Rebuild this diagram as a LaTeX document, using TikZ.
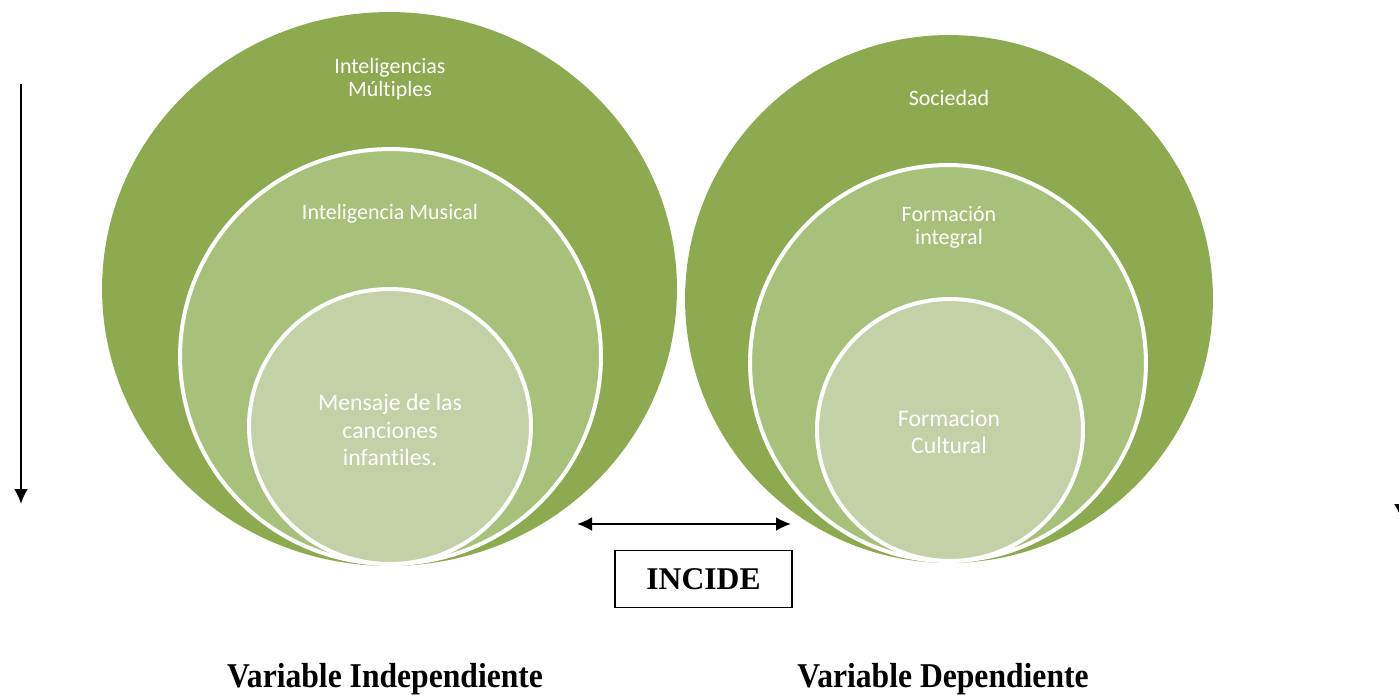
\documentclass[tikz,border=0pt]{standalone}
\usepackage{fontspec}
\setmainfont{Liberation Serif}
\newfontfamily\calibri[Ligatures=NoCommon]{Carlito}
\usetikzlibrary{shapes.geometric,arrows.meta}

\definecolor{greenA}{HTML}{8DAA50}
\definecolor{greenB}{HTML}{A8C17A}
\definecolor{greenC}{HTML}{C2D2A6}

\tikzset{
  ring/.style={ellipse, inner sep=0pt},
  ringa/.style={ring, fill=greenA},
  ringb/.style={ring, fill=greenB, draw=white, line width=0.08cm},
  ringc/.style={ring, fill=greenC, draw=white, line width=0.08cm},
  intext/.style={text=white, align=center, font=\calibri\fontsize{12.5}{13}\selectfont},
  coretext/.style={text=white, align=center, font=\calibri\fontsize{13.5}{15.5}\selectfont},
  vartext/.style={font=\bfseries\fontsize{18}{20}\selectfont},
  arr/.tip={Latex[length=0.3cm,width=0.28cm]}
}

\begin{document}
\begin{tikzpicture}[x=0.02cm, y=-0.02cm, every edge/.style={draw, line width=0.045cm, -arr}]
        \useasboundingbox (0,0) rectangle (1399,697);
        \clip (0,0) rectangle (1399,697);

        % independiente
        \node[ringa, minimum width=11.5cm, minimum height=11.08cm] (mult) at (389.5,289) {};
        \node[ringb, minimum width=8.42cm, minimum height=8.3cm] (musi) at (390.5,356.5) {};
        \node[ringc, minimum width=5.64cm, minimum height=5.5cm] (mens) at (390,426.5) {};

        % dependiente
        \node[ringa, minimum width=10.56cm, minimum height=10.56cm] (soci) at (949,299) {};
        \node[ringb, minimum width=7.92cm, minimum height=7.92cm] (inte) at (948,363) {};
        \node[ringc, minimum width=5.32cm, minimum height=5.24cm] (cult) at (950,430) {};

        \node[intext] (tmult) at (390,79) {Inteligencias\\Múltiples};
        \node[intext] (tmusi) at (390,214) {Inteligencia Musical};
        \node[coretext] (tmens) at (390,430) {Mensaje de las\\canciones\\infantiles.};
        \node[intext] (tsoci) at (949,98) {Sociedad};
        \node[intext] (tinte) at (949,227) {Formación\\integral};
        \node[coretext] (tcult) at (949,432) {Formacion\\Cultural};

        \node[draw, line width=0.03cm, minimum width=3.54cm, minimum height=1.14cm, vartext] (inc) at (703.5,579) {INCIDE};
        \node[vartext] (vind) at (385,679) {\scalebox{1}[1.1]{Variable Independiente}};
        \node[vartext] (vdep) at (943,679) {\scalebox{1}[1.1]{Variable Dependiente}};

        \coordinate (l1) at (21,84);
        \coordinate (l2) at (21,504);
        \coordinate (r1) at (1401,84);
        \coordinate (r2) at (1401,519);
        \coordinate (d1) at (577,524);
        \coordinate (d2) at (791,524);

        \path (l1) edge (l2)
              (r1) edge (r2)
              (d1) edge[arr-arr] (d2);
    \end{tikzpicture}
\end{document}
